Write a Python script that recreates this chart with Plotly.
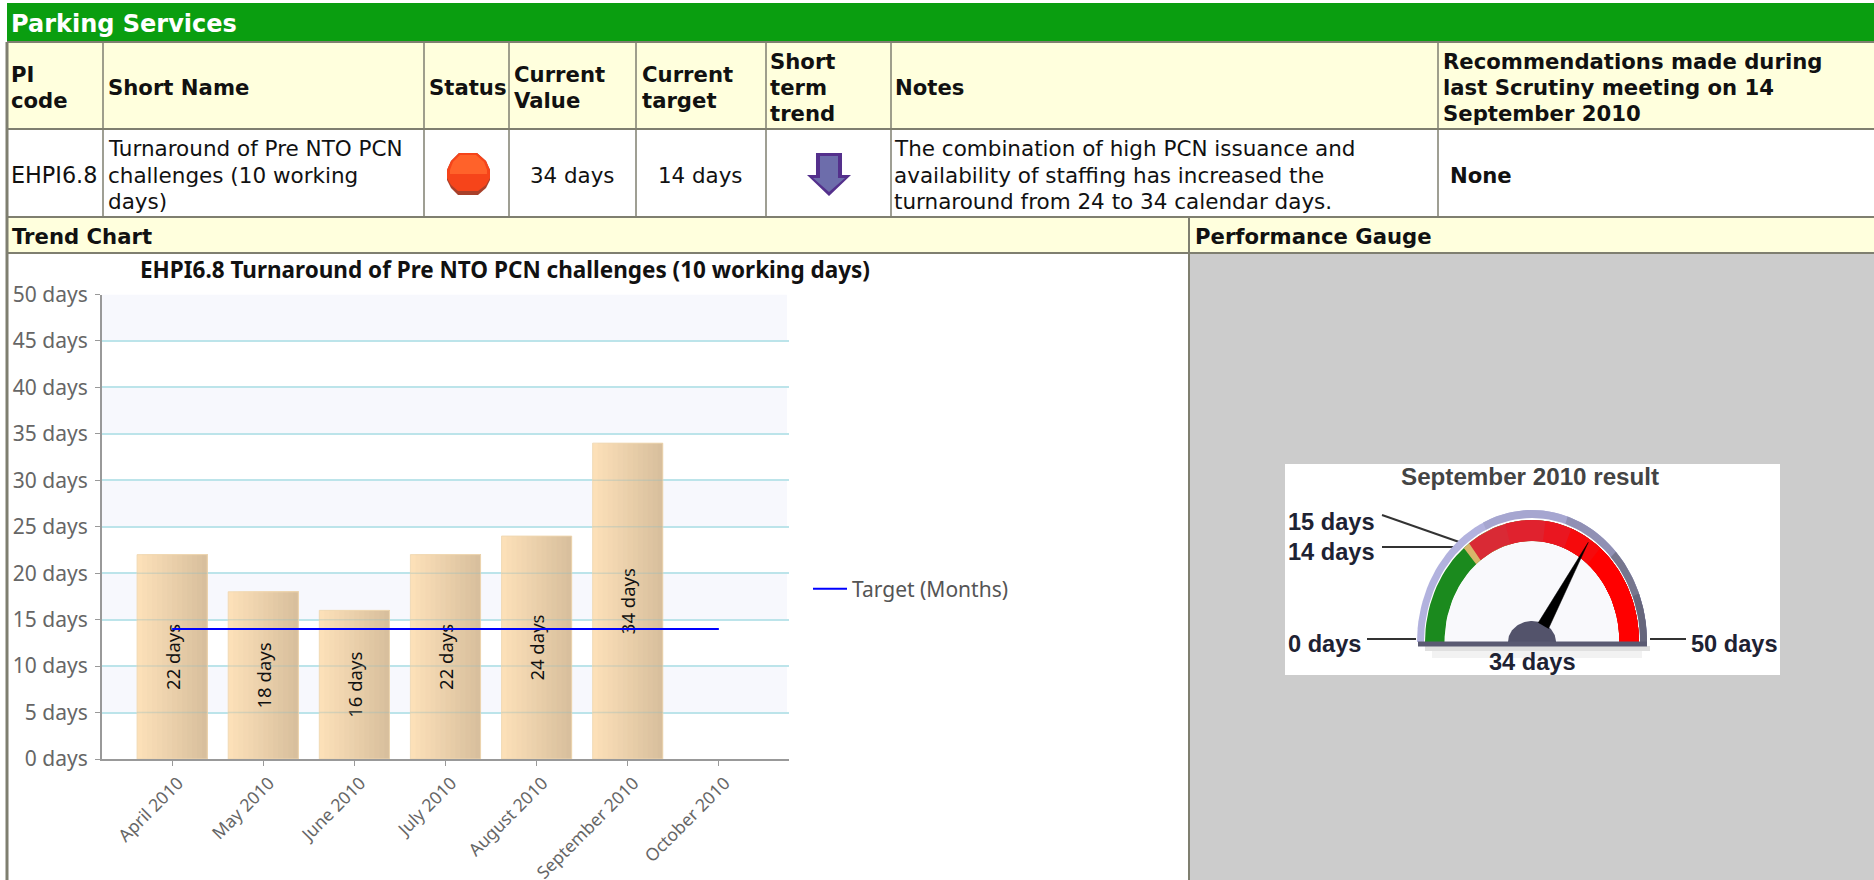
import math
import plotly.graph_objects as go

W, H = 1874, 880

months = ["April 2010", "May 2010", "June 2010", "July 2010", "August 2010", "September 2010", "October 2010"]
actual = [22, 18, 16, 22, 24, 34, None]
labels = ["22 days", "18 days", "16 days", "22 days", "24 days", "34 days", ""]
target = [14, 14, 14, 14, 14, 14, 14]
y_ticks = [0, 5, 10, 15, 20, 25, 30, 35, 40, 45, 50]
y_tick_text = ["0 days", "5 days", "10 days", "15 days", "20 days", "25 days", "30 days", "35 days", "40 days",
               "45 days", "50 days"]
bands = [(5, 10), (15, 20), (25, 30), (35, 40), (45, 50)]

gauge_min, gauge_max = 0, 50
gauge_value = 34
gauge_zones = [(0, "#1b8a1e"), (14, "#d9b46a"), (15, "#d92a35"), (21, "#e0222e"), (27, "#ea1620"),
               (31, "#f60a0c"), (36, "#ff0000")]
shell_zones = [(0, "#b2b2de"), (18, "#a6a6d0"), (30, "#9090b4"), (38, "#76768e"), (44, "#66667c")]

title = "EHPI6.8 Turnaround of Pre NTO PCN challenges (10 working days)"

VERD = "DejaVu Sans, Verdana, sans-serif"
TAH = "Noto Sans, Tahoma, sans-serif"
ARI = "Liberation Sans, Arial, sans-serif"
BORDER = "#7f7f70"
CREAM = "#ffffdd"
GRID = "#bce4ea"


def fx(x):
    return x / W


def fy(y):
    return 1 - y / H


shapes, annos = [], []


def rect(x0, y0, x1, y1, fill, layer="below"):
    shapes.append(dict(type="rect", xref="paper", yref="paper", x0=fx(x0), x1=fx(x1), y0=fy(y0), y1=fy(y1),
                       fillcolor=fill, line_width=0, layer=layer))


def line(x0, y0, x1, y1, color=BORDER, width=2, layer="below"):
    shapes.append(dict(type="line", xref="paper", yref="paper", x0=fx(x0), x1=fx(x1), y0=fy(y0), y1=fy(y1),
                       line=dict(color=color, width=width), layer=layer))


def poly(points, fill):
    d = "M " + " L ".join(f"{fx(a):.5f} {fy(b):.5f}" for a, b in points) + " Z"
    shapes.append(dict(type="path", xref="paper", yref="paper", path=d, fillcolor=fill, line_width=0, layer="below"))


def text(x, y, s, size=21.4, bold=False, color="#111", anchor="left", font=VERD):
    annos.append(dict(xref="paper", yref="paper", x=fx(x), y=fy(y), text=f"<b>{s}</b>" if bold else s,
                      showarrow=False, xanchor=anchor, yanchor="middle", align=anchor,
                      font=dict(family=font, size=size, color=color)))


# Page chrome
rect(7, 3, W, 41, "#0a9e10")
rect(7, 42, W, 128, CREAM)
rect(7, 218, W, 252, CREAM)
rect(1190, 254, W, H, "#cccccc")
rect(1285, 464, 1780, 675, "#ffffff")
for yy in (42, 129, 217, 253):
    line(7, yy, W, yy, width=2)
for xx in (103, 424, 509, 636, 766, 891, 1438):
    line(xx, 42, xx, 217, width=1.5)
line(7, 42, 7, H, width=3)
line(1189, 218, 1189, H, width=2)

# Table text
text(9, 24, "Parking Services", 24, True, "#fff")
header = [(9, [74, 100], ["PI", "code"]), (106, [87], ["Short Name"]), (427, [87], ["Status"]),
          (512, [74, 100], ["Current", "Value"]), (640, [74, 100], ["Current", "target"]),
          (768, [61, 87, 113], ["Short", "term", "trend"]), (893, [87], ["Notes"]),
          (1441, [61, 87, 113], ["Recommendations made during", "last Scrutiny meeting on 14", "September 2010"])]
for x, ys, lines in header:
    for y, s in zip(ys, lines):
        text(x, y, s, 21.2, bold=True)
row = [(9, [175], ["EHPI6.8"]), (106, [148, 175, 202], ["Turnaround of Pre NTO PCN", "challenges (10 working", "days)"]),
       (892, [148, 175, 202], ["The combination of high PCN issuance and", "availability of staffing has increased the",
                               "turnaround from 24 to 34 calendar days."])]
for x, ys, lines in row:
    for y, s in zip(ys, lines):
        text(x, y, s, 22.3 if s == "EHPI6.8" else 21.5)
text(572, 175, "34 days", anchor="center")
text(700, 175, "14 days", anchor="center")
text(1448, 175, "None", 21.2, bold=True)
text(10, 236, "Trend Chart", 21.2, bold=True)
text(1193, 236, "Performance Gauge", 21.2, bold=True)

# Status octagon and trend arrow
poly([(459, 153), (477, 153), (486, 161), (490, 170), (490, 180), (486, 188), (478, 195), (458, 195),
      (451, 188), (447, 180), (447, 170), (451, 161)], "#a8402a")
poly([(459, 153), (477, 153), (486, 161), (490, 170), (490, 178), (486, 185), (478, 191), (458, 191),
      (451, 185), (447, 178), (447, 170), (451, 161)], "#f6441a")
poly([(460, 155), (476, 155), (484, 162), (487, 170), (487, 174), (450, 174), (450, 170), (453, 162)], "#ff622a")
poly([(816, 153), (842, 153), (842, 175), (851, 175), (829, 196), (807, 175), (816, 175)], "#54308c")
poly([(820, 156), (838, 156), (838, 178), (845, 178), (829, 192), (813, 178), (820, 178)], "#6d6dab")

# Gauge furniture
rect(1425, 646, 1650, 651, "rgba(0,0,0,0.12)")
rect(1432, 651, 1642, 658, "rgba(0,0,0,0.05)")
line(1382, 515, 1462, 543, "#333", 2)
line(1382, 547, 1457, 547, "#333", 2)
line(1367, 639, 1416, 639, "#333", 2)
line(1650, 639, 1686, 639, "#333", 2)
text(1530, 476, "September 2010 result", 24.2, True, "#444", "center", ARI)
for x, y, s, anc in [(1286, 522, "15 days", "left"), (1286, 552, "14 days", "left"), (1286, 644, "0 days", "left"),
                     (1689, 644, "50 days", "left"), (1532, 662, "34 days", "center")]:
    text(x, y, s, 23.6, True, "#1e2233", anc, ARI)

# Plot-area bands
for a, b in bands:
    shapes.append(dict(type="rect", xref="x domain", yref="y", x0=0, x1=0.997, y0=a, y1=b,
                       fillcolor="#f7f8fd", line_width=0, layer="below"))

fig = go.Figure()

# Bars: successively narrower opaque bars build the left-to-right shading
bar_w = 0.77
N = 14
c0, c1 = (252, 224, 184), (216, 191, 157)
for k in range(N):
    t = k / (N - 1)
    col = "rgb(%d,%d,%d)" % tuple(round(a + (b - a) * t) for a, b in zip(c0, c1))
    fig.add_trace(go.Bar(x=months, y=actual, width=bar_w * (N - k) / N, offset=-bar_w / 2 + k * bar_w / N,
                         marker=dict(color=col, line_width=0), showlegend=False, hoverinfo="skip"))
# Gridlines show faintly through the bars
for i, v in enumerate(actual):
    for t in y_ticks:
        if v is not None and 0 < t < v:
            shapes.append(dict(type="line", xref="x", yref="y", x0=i - bar_w / 2, x1=i + bar_w / 2, y0=t, y1=t,
                               line=dict(color="rgba(150,190,190,0.35)", width=1.5), layer="above"))
fig.add_trace(go.Bar(x=months, y=actual, width=bar_w, text=labels, textposition="inside", textangle=-90,
                     insidetextanchor="middle", constraintext="none", cliponaxis=False,
                     insidetextfont=dict(family=TAH, size=18.5, color="#111"),
                     marker=dict(color="rgba(0,0,0,0)", line=dict(color="rgba(240,216,178,0.9)", width=1)),
                     showlegend=False, hoverinfo="skip"))
fig.add_trace(go.Scatter(x=months, y=target, mode="lines", name="Target (Months)",
                         line=dict(color="#0000ff", width=2), hoverinfo="skip"))


# Gauge dial on its own axes whose units are pixels; the dial is an upright half ellipse
def ang(v):
    return math.radians(180 * (gauge_max - v) / (gauge_max - gauge_min))


def wedge(outer, inner, v0, v1, color):
    vs = [v0 + (v1 - v0) * i / 60 for i in range(61)]
    xs = [outer[0] * math.cos(ang(v)) for v in vs] + [inner[0] * math.cos(ang(v)) for v in reversed(vs)]
    ys = [outer[1] * math.sin(ang(v)) for v in vs] + [inner[1] * math.sin(ang(v)) for v in reversed(vs)]
    fig.add_trace(go.Scatter(x=xs, y=ys, xaxis="x2", yaxis="y2", mode="lines", fill="toself", fillcolor=color,
                             line_width=0, showlegend=False, hoverinfo="skip"))


for v0, color in shell_zones:
    wedge((115, 132), (0, 0), v0, gauge_max, color)
wedge((108, 124), (0, 0), gauge_min, gauge_max, "#ffffff")
for v0, color in gauge_zones:
    wedge((107, 122), (87.5, 101), v0, gauge_max, color)
wedge((87, 100.5), (0, 0), gauge_min, gauge_max, "#f9f9fc")
wedge((24, 21), (0, 0), gauge_min, gauge_max, "#53536b")
a = ang(gauge_value)
da = math.radians(16)
fig.add_trace(go.Scatter(x=[22 * math.cos(a + da), 105 * math.cos(a), 22 * math.cos(a - da)],
                         y=[20 * math.sin(a + da), 118 * math.sin(a), 20 * math.sin(a - da)],
                         xaxis="x2", yaxis="y2", mode="lines", fill="toself", fillcolor="#000",
                         line=dict(color="#000", width=0.5), showlegend=False, hoverinfo="skip"))

line(1418, 644, 1647, 644, "#5a5a72", 5, "above")

cx, base, RX, RY = 1532, 642, 120, 140
axis_common = dict(showline=True, linecolor="#999999", linewidth=2, ticks="outside", ticklen=5, tickcolor="#999999",
                   tickwidth=1, automargin=False)
fig.update_layout(
    width=W, height=H, margin=dict(l=0, r=0, t=0, b=0), autosize=False,
    paper_bgcolor="#fff", plot_bgcolor="rgba(0,0,0,0)", barmode="overlay", hovermode=False,
    shapes=shapes, annotations=annos,
    xaxis=dict(domain=[fx(102), fx(789)], type="category", categoryorder="array", categoryarray=months,
               range=[-0.77, 6.77], tickangle=-45, showgrid=False, zeroline=False, ticklabelshift=6,
               tickfont=dict(family=TAH, size=17.5, color="#666"), **axis_common),
    yaxis=dict(domain=[fy(759), fy(294.5)], range=[0, 50], tickmode="array", tickvals=y_ticks, ticktext=y_tick_text,
               showgrid=True, gridcolor=GRID, gridwidth=1.5, zeroline=False, ticklabelstandoff=3,
               tickfont=dict(family=TAH, size=21, color="#666"), **axis_common),
    xaxis2=dict(domain=[fx(cx - RX), fx(cx + RX)], range=[-RX, RX], visible=False, fixedrange=True),
    yaxis2=dict(domain=[fy(base), fy(base - RY)], range=[0, RY], visible=False, fixedrange=True, anchor="x2"),
    legend=dict(x=fx(808), xanchor="left", y=fy(589), yanchor="middle", bgcolor="rgba(0,0,0,0)",
                font=dict(family=TAH, size=21, color="#555"), itemwidth=34),
    title=dict(text=f"<b>{title}</b>", x=fx(505), xanchor="center", y=fy(270), yanchor="middle",
               font=dict(family=TAH, size=22.5, color="#111")),
)

fig.write_html("out.html", config=dict(displayModeBar=False),
               post_script="document.body.style.margin='0';document.body.style.overflow='hidden';")
